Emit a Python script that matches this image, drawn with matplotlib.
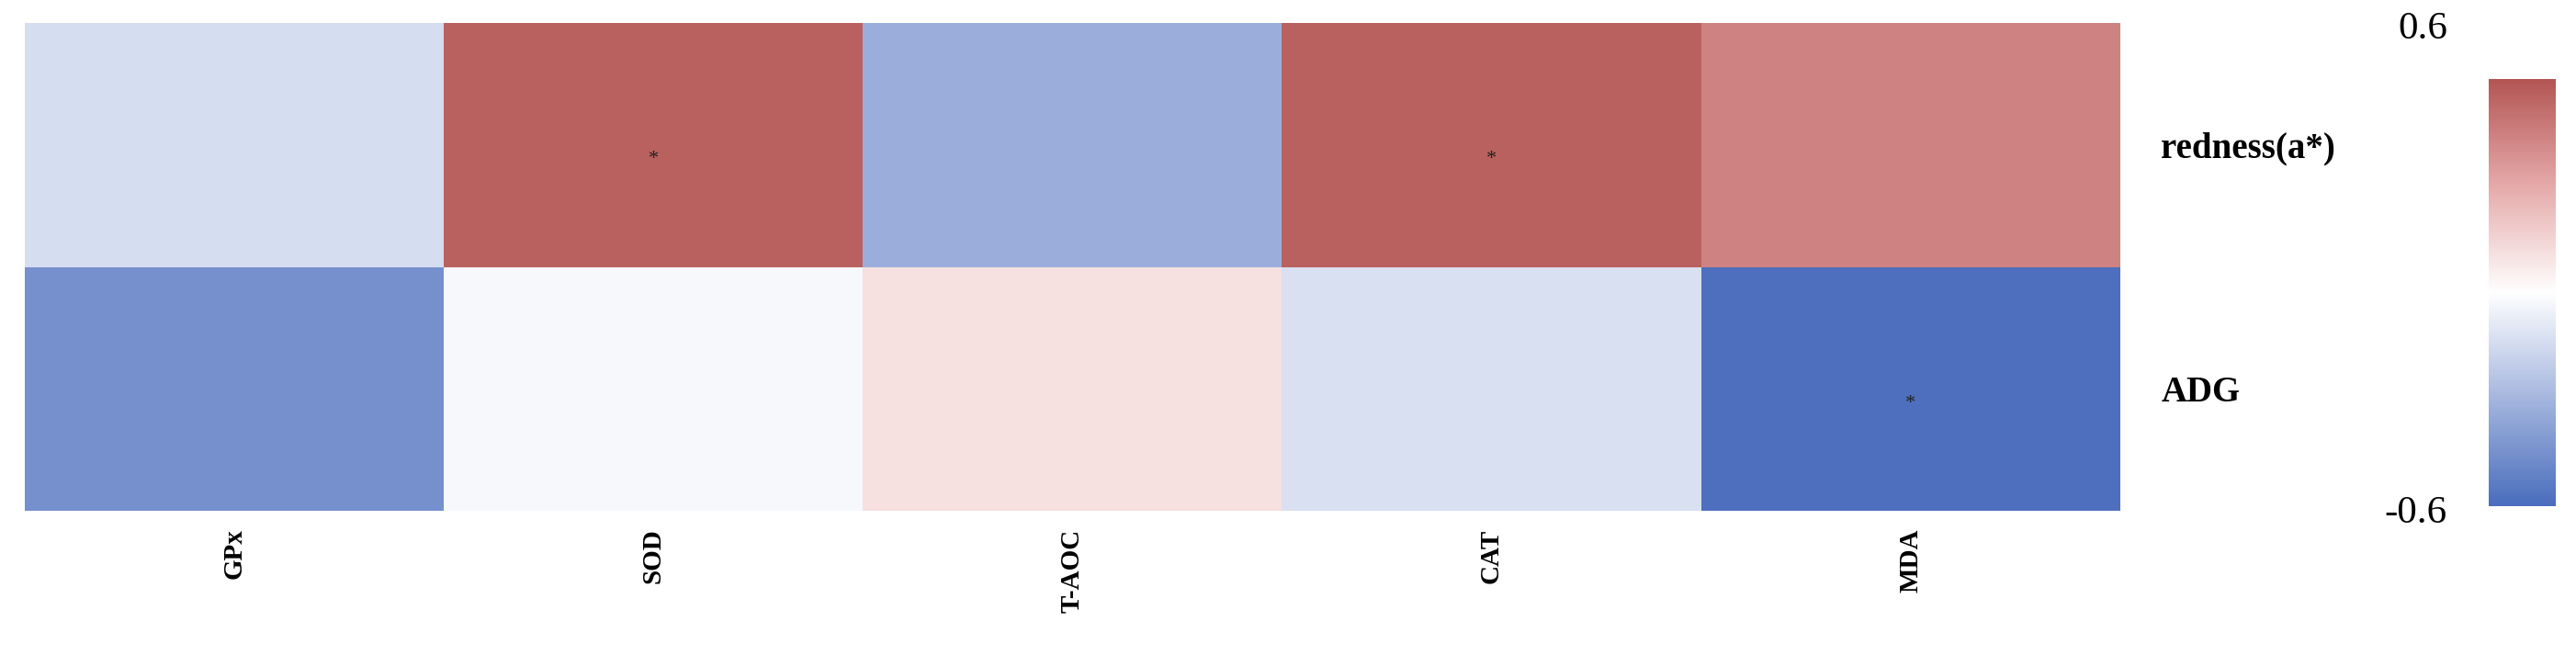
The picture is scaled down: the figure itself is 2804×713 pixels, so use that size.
import numpy as np
import matplotlib
matplotlib.use('Agg')
import matplotlib.pyplot as plt
from matplotlib.colors import LinearSegmentedColormap

variables = ['GPx', 'SOD', 'T-AOC', 'CAT', 'MDA']
traits = ['redness(a*)', 'ADG']
corr = [
  [-0.14, 0.56, -0.33, 0.56, 0.44],   # redness(a*)
  [-0.45, -0.03, 0.11, -0.13, -0.59],  # ADG
]
signif = [
  ['', '*', '', '*', ''],
  ['', '', '', '', '*'],
]

plt.rcParams['font.family'] = ['Liberation Serif', 'DejaVu Serif']

cmap = LinearSegmentedColormap.from_list(
  'bwr_soft',
  [(0.0, '#4a6dbd'), (0.5, '#ffffff'), (0.75, '#e6aaaa'), (1.0, '#b35654')])

fig = plt.figure(figsize=(28.04, 7.13), dpi=100)
ax = fig.add_axes([0.0096, 0.220, 0.8134, 0.745])
data = np.array(corr)
ax.pcolormesh(data, cmap=cmap, vmin=-0.6, vmax=0.6)
ax.set_xlim(0, len(variables))
ax.set_ylim(len(traits), 0)

for i, row in enumerate(signif):
  for j, s in enumerate(row):
    if s:
      ax.text(j + 0.5, i + 0.56, s, ha='center', va='center', fontsize=16, color='#222222')

ax.set_xticks(np.arange(len(variables)) + 0.5, labels=variables)
ax.set_yticks(np.arange(len(traits)) + 0.5, labels=traits)
ax.tick_params(length=0, labelsize=28)
ax.tick_params(axis='x', pad=14, labelsize=21)
ax.yaxis.tick_right()
ax.tick_params(axis='y', pad=32)
for lab in ax.get_xticklabels():
  lab.set_rotation(90)
  lab.set_fontweight('bold')
  lab.set_va('top')
for lab in ax.get_yticklabels():
  lab.set_fontweight('bold')
for s in ax.spines.values():
  s.set_visible(False)

# colour bar
cax = fig.add_axes([0.966, 0.227, 0.026, 0.652])
grad = np.linspace(-0.6, 0.6, 256).reshape(-1, 1)
cax.imshow(grad, cmap=cmap, aspect='auto', origin='lower', extent=[0, 1, -0.6, 0.6])
cax.set_axis_off()
fig.text(0.950, 0.955, '0.6', ha='right', va='center', fontsize=31)
fig.text(0.950, 0.217, '-0.6', ha='right', va='center', fontsize=31)

fig.savefig('out.png', dpi=100)
